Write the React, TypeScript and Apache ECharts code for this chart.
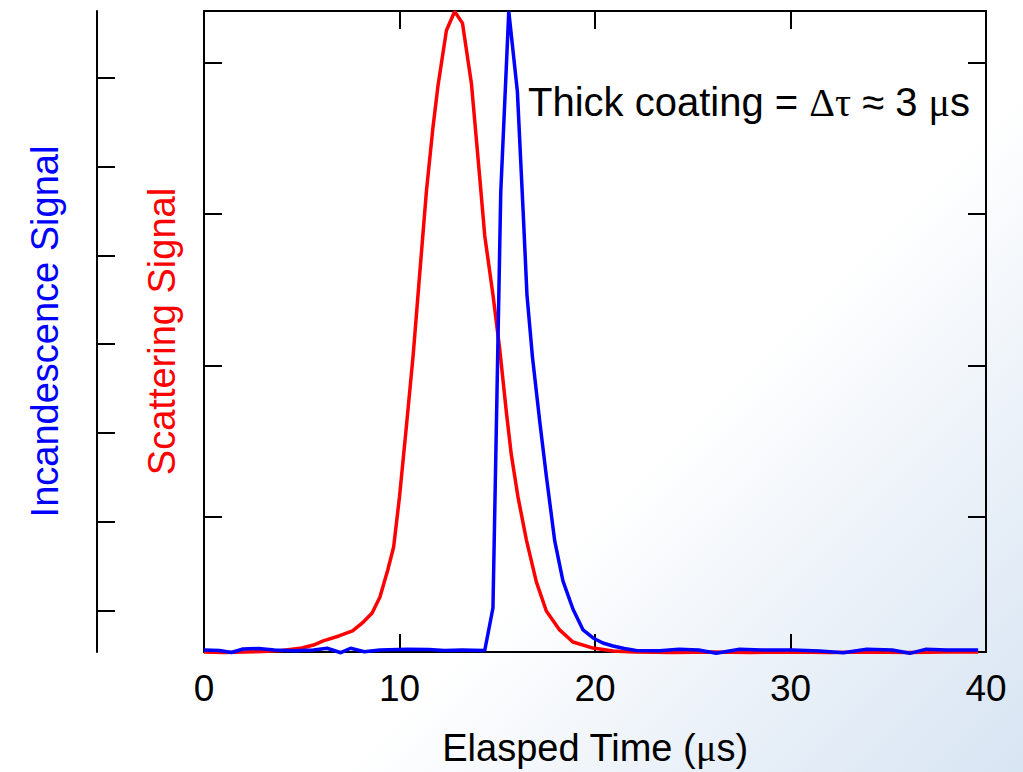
import React, { useEffect, useRef } from "react";
import * as echarts from "echarts";

const X_MIN = 0;
const X_MAX = 40;
const X_INTERVAL = 10;

const INC_MIN = 0.535;
const INC_MAX = 7.749;
const INC_TICKS = [1, 2, 3, 4, 5, 6, 7];

const SCAT_MIN = 0.107;
const SCAT_MAX = 4.343;
const SCAT_TICKS = [1, 2, 3, 4];

const TIME_SCAT = [
  0, 1, 2, 3, 4, 4.4, 5.0, 5.6, 6.1, 6.9, 7.6, 8.1, 8.6, 9.0, 9.4, 9.7, 10.0, 10.35, 10.7, 11.03,
  11.38, 11.71, 11.97, 12.4, 12.82, 13.22, 13.68, 14.1, 14.36, 14.78, 15.13, 15.47, 15.72, 16.06,
  16.49, 17.0, 17.51, 18.19, 18.87, 19.9, 20.92, 22, 24, 26, 28, 30, 32, 34, 36, 38, 39.6,
];
const SCATTERING = [
  0.107, 0.104, 0.107, 0.11, 0.117, 0.124, 0.133, 0.153, 0.18, 0.213, 0.246, 0.299, 0.365, 0.471,
  0.649, 0.801, 1.132, 1.595, 2.071, 2.6, 3.156, 3.572, 3.85, 4.214, 4.34, 4.263, 3.863, 3.248,
  2.858, 2.468, 2.104, 1.688, 1.41, 1.132, 0.848, 0.57, 0.378, 0.253, 0.173, 0.133, 0.114, 0.107,
  0.104, 0.107, 0.104, 0.107, 0.104, 0.107, 0.104, 0.107, 0.107,
];

const TIME_INC = [
  0, 0.8, 1.4, 2.0, 2.8, 3.6, 4.6, 5.6, 6.3, 7.0, 7.5, 8.2, 9.0, 10.4, 11.5, 12.3, 13.2, 14.36,
  14.78, 15.18, 15.59, 16.03, 16.32, 16.52, 16.8, 17.17, 17.51, 17.94, 18.36, 18.87, 19.39, 19.9,
  20.4, 20.92, 21.5, 22.1, 23.3, 24.3, 25.3, 26.2, 27.4, 28.5, 30.1, 31.5, 32.7, 33.9, 35.2, 36.1,
  36.9, 38.0, 39.6,
];
const INCANDESCENCE = [
  0.558, 0.552, 0.529, 0.569, 0.574, 0.558, 0.55, 0.558, 0.577, 0.527, 0.577, 0.538, 0.558, 0.565,
  0.563, 0.552, 0.558, 0.552, 1.03, 5.715, 7.745, 6.841, 5.513, 4.555, 3.857, 3.136, 2.517, 1.785,
  1.335, 1.019, 0.783, 0.693, 0.636, 0.603, 0.574, 0.552, 0.55, 0.565, 0.558, 0.52, 0.565, 0.558,
  0.558, 0.546, 0.527, 0.565, 0.558, 0.52, 0.565, 0.558, 0.558,
];

const SANS = "Liberation Sans";
const SERIF = "Liberation Serif";

export default function App() {
  const ref = useRef<HTMLDivElement>(null);

  useEffect(() => {
    if (!ref.current) return;
    const chart = echarts.init(ref.current, null, { renderer: "svg" });
    const axisLine = { show: true, onZero: false, lineStyle: { color: "#000", width: 2 } };
    const tick = { show: true, inside: true, length: 18, lineStyle: { color: "#000", width: 2 } };

    chart.setOption({
      animation: false,
      backgroundColor: "transparent",
      grid: { left: 204, right: 37, top: 11, bottom: 120, containLabel: false, outerBoundsMode: "none" },
      xAxis: [
        {
          type: "value",
          position: "bottom",
          min: X_MIN,
          max: X_MAX,
          interval: X_INTERVAL,
          axisLine,
          axisTick: tick,
          splitLine: { show: false },
          axisLabel: { color: "#000", fontFamily: SANS, fontSize: 37, margin: 18 },
          name: "Elasped Time ({g|μ}s)",
          nameLocation: "middle",
          nameGap: 77,
          nameTextStyle: {
            color: "#000",
            fontFamily: SANS,
            fontSize: 38,
            rich: { g: { fontFamily: SERIF, fontSize: 38, color: "#000" } },
          },
        },
        {
          type: "value",
          position: "top",
          min: X_MIN,
          max: X_MAX,
          interval: X_INTERVAL,
          axisLine,
          axisTick: tick,
          splitLine: { show: false },
          axisLabel: { show: false },
        },
      ],
      yAxis: [
        {
          type: "value",
          position: "left",
          offset: 107,
          min: INC_MIN,
          max: INC_MAX,
          axisLine,
          axisTick: { ...tick, customValues: INC_TICKS },
          axisLabel: { show: false, customValues: INC_TICKS },
          splitLine: { show: false },
          name: "Incandescence Signal",
          nameLocation: "middle",
          nameGap: 33,
          nameRotate: 90,
          nameTextStyle: { color: "#0000ff", fontFamily: SANS, fontSize: 38 },
        },
        {
          type: "value",
          position: "left",
          min: SCAT_MIN,
          max: SCAT_MAX,
          axisLine,
          axisTick: { ...tick, customValues: SCAT_TICKS },
          axisLabel: { show: false, customValues: SCAT_TICKS },
          splitLine: { show: false },
          name: "Scattering Signal",
          nameLocation: "middle",
          nameGap: 23,
          nameRotate: 90,
          nameTextStyle: { color: "#ff0000", fontFamily: SANS, fontSize: 38 },
        },
        {
          type: "value",
          position: "right",
          min: SCAT_MIN,
          max: SCAT_MAX,
          axisLine,
          axisTick: { ...tick, customValues: SCAT_TICKS },
          axisLabel: { show: false, customValues: SCAT_TICKS },
          splitLine: { show: false },
        },
      ],
      series: [
        {
          type: "line",
          name: "Scattering",
          xAxisIndex: 0,
          yAxisIndex: 1,
          data: TIME_SCAT.map((t, i) => [t, SCATTERING[i]]),
          showSymbol: false,
          symbol: "none",
          clip: false,
          lineStyle: { color: "#ff0000", width: 3.5 },
          z: 3,
        },
        {
          type: "line",
          name: "Incandescence",
          xAxisIndex: 0,
          yAxisIndex: 0,
          data: TIME_INC.map((t, i) => [t, INCANDESCENCE[i]]),
          showSymbol: false,
          symbol: "none",
          clip: false,
          lineStyle: { color: "#0000ff", width: 3.5 },
          z: 4,
        },
      ],
      graphic: [
        {
          type: "text",
          left: 528,
          top: 82,
          style: {
            text: "Thick coating = {g|Δτ} ≈ 3 {g|μ}s",
            fill: "#000",
            font: `40px "${SANS}"`,
            rich: { g: { fontFamily: SERIF, fontSize: 40, fill: "#000" } },
          },
        },
      ],
    });
    return () => chart.dispose();
  }, []);

  return (
    <div
      ref={ref}
      style={{
        position: "fixed",
        left: 0,
        top: 0,
        width: 1023,
        height: 772,
        background:
          "linear-gradient(135deg, #ffffff 0%, #ffffff 62%, #e9f0f8 82%, #d8e5f3 100%)",
      }}
    />
  );
}
